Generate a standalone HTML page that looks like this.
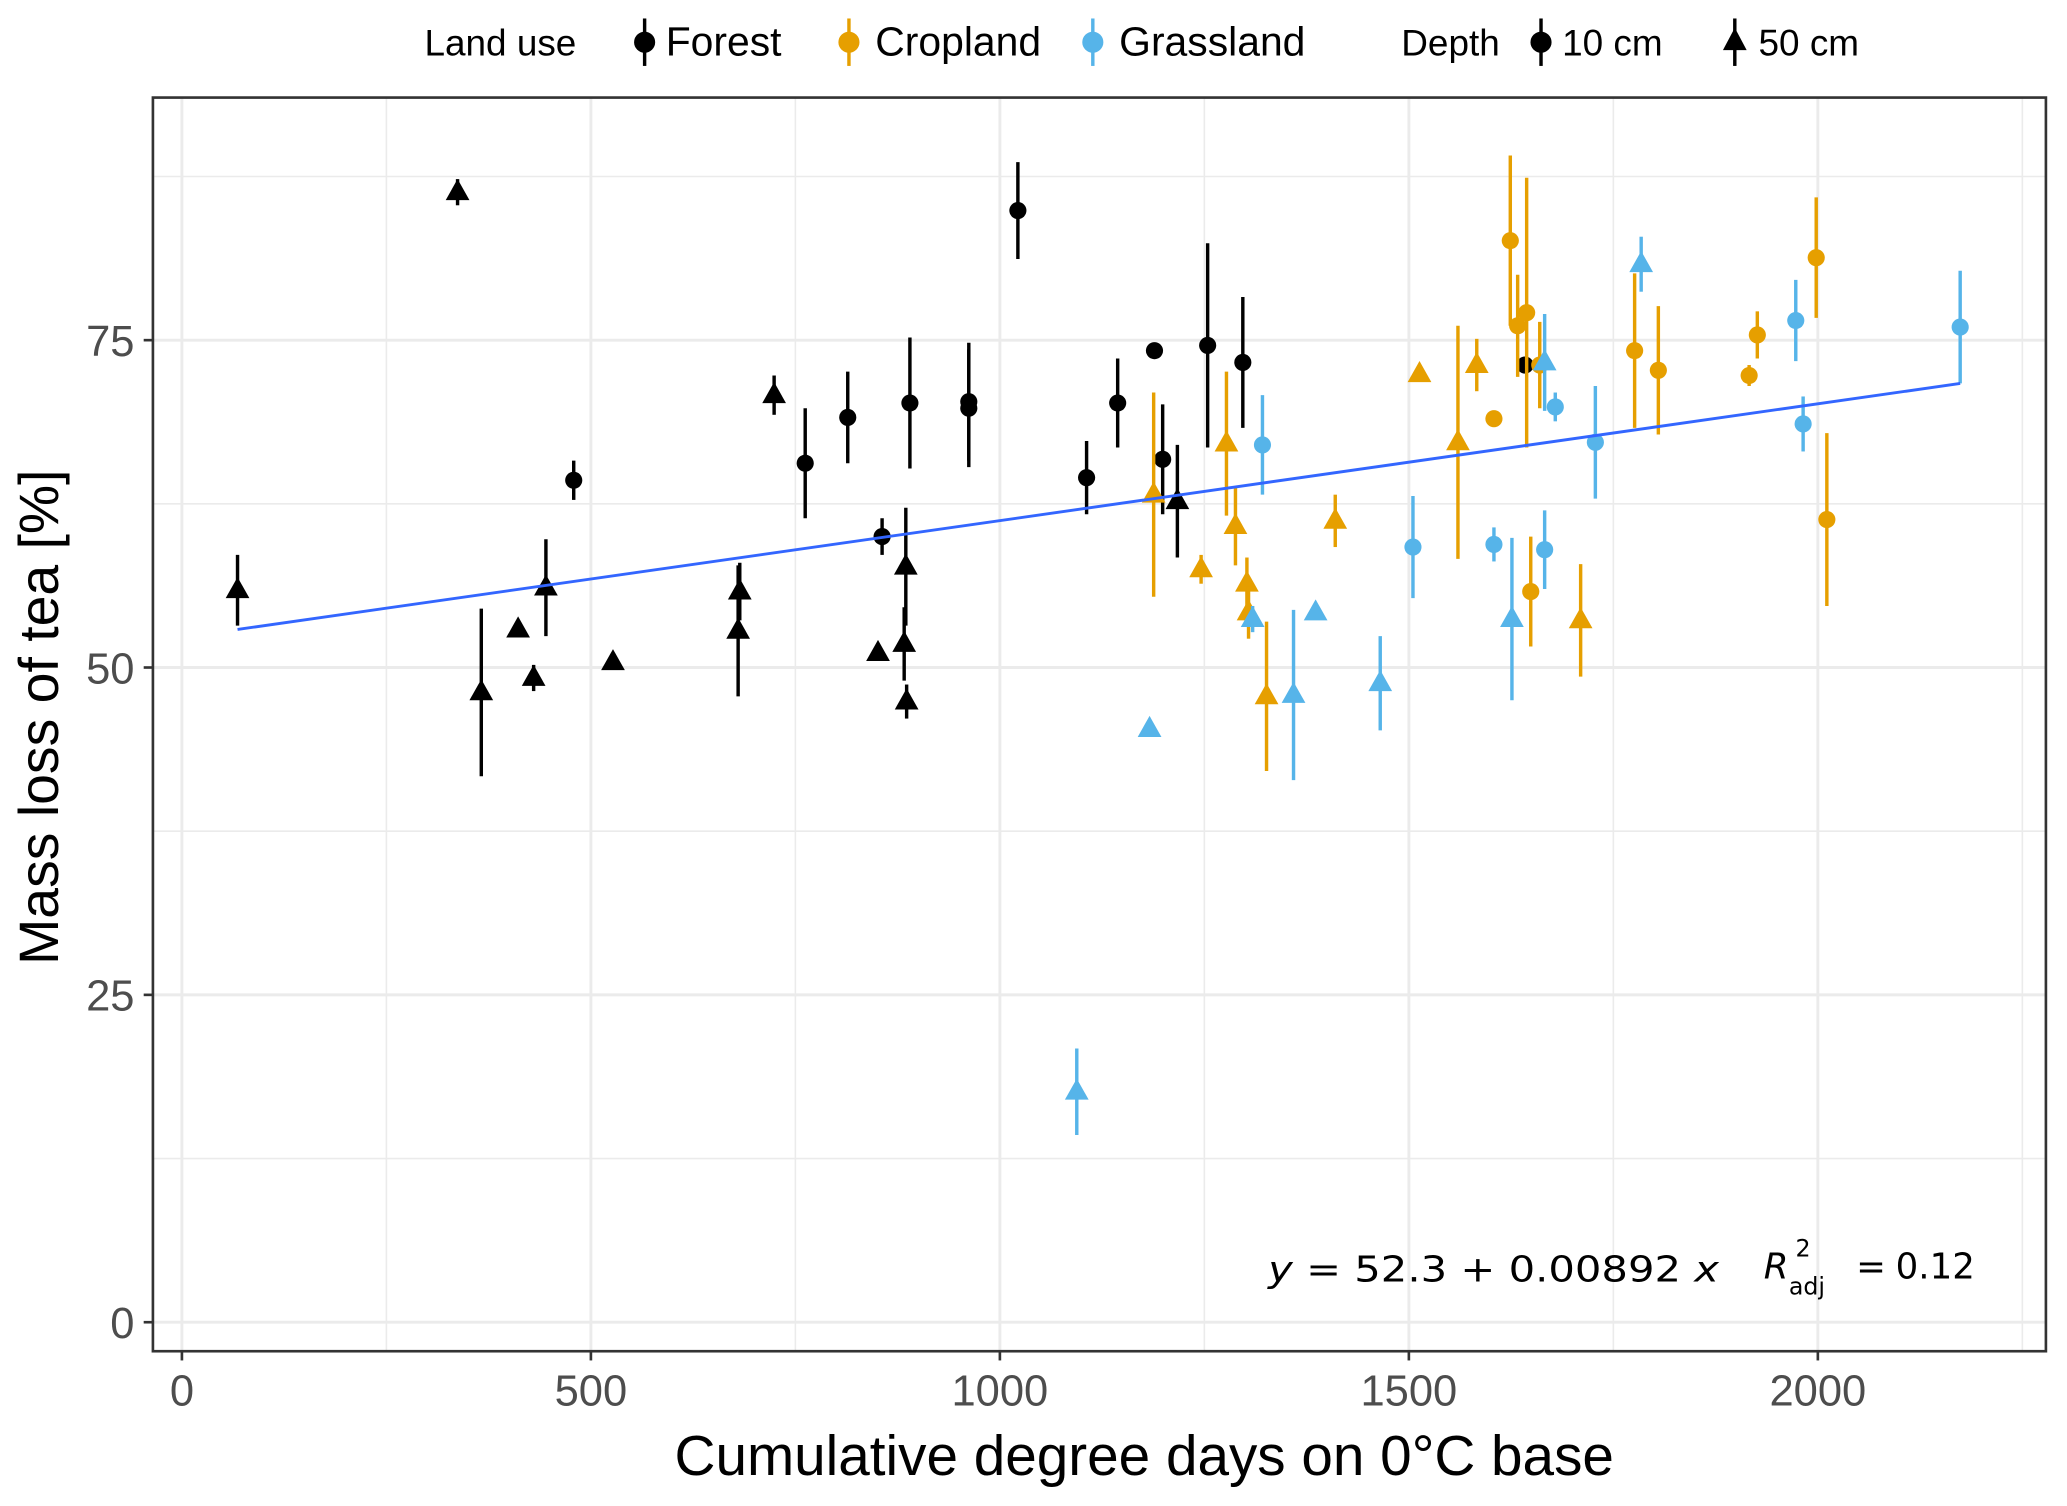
<!DOCTYPE html>
<html><head><meta charset="utf-8">
<style>
html,body{margin:0;padding:0;background:#fff;}
svg{display:block;font-family:"Liberation Sans",sans-serif;}
</style></head>
<body>
<svg id="chart" width="2067" height="1506" viewBox="0 0 1568 1142.4" xmlns="http://www.w3.org/2000/svg">
<g id="grid"></g>
<g id="marks"></g>
<rect x="116" y="74" width="1436" height="951" fill="none" stroke="#333" stroke-width="2"/>
<g id="axes"></g>
<text transform="translate(44,544) rotate(-90)" text-anchor="middle" font-size="42">Mass loss of tea [%]</text>
<text x="868" y="1119" text-anchor="middle" font-size="43">Cumulative degree days on 0°C base</text>
<g font-size="27" font-family="'DejaVu Sans',sans-serif">
<text x="962" y="972" textLength="342" lengthAdjust="spacingAndGlyphs"><tspan font-style="italic">y</tspan> = 52.3 + 0.00892 <tspan font-style="italic">x</tspan></text>
<text x="1338" y="970" font-style="italic">R</text>
<text x="1362" y="953" font-size="18">2</text>
<text x="1357" y="982" font-size="18">adj</text>
<text x="1408" y="970">= </text>
<text x="1438" y="970">0.12</text>
</g>
<g id="legend" font-size="29"></g>
</svg>
<script>
const xTicks=[0,500,1000,1500,2000];
const yTicks=[0,25,50,75];
const forest10x=[479,762,814,890,962,962,856,1022,1106,1144,1189,1199,1254,1297,1642];
const forest10y=[64.3,65.6,69.1,70.2,70.3,69.8,60.0,84.9,64.5,70.2,74.2,65.9,74.6,73.3,73.1];
const forest10e=[1.5,4.2,3.5,5.0,4.5,4.5,1.4,3.7,2.8,3.4,0.5,4.2,7.8,5.0,0.5];
const forest50x=[68,337,366,411,430,445,527,680,682,724,851,885,883,886,1217];
const forest50y=[55.9,86.3,48.1,52.9,49.2,56.1,50.4,52.8,55.8,70.8,51.1,57.7,51.8,47.4,62.7];
const forest50e=[2.7,1.0,6.4,0.4,1.0,3.7,0.5,5.0,2.2,1.5,0.5,4.5,2.8,1.3,4.3];
const crop10x=[1604,1624,1633,1644,1660,1649,1776,1805,1916,1926,1998,2011];
const crop10y=[69.0,82.6,76.1,77.1,73.1,55.8,74.2,72.7,72.3,75.4,81.3,61.3];
const crop10e=[0.4,6.5,3.9,10.3,3.3,4.2,5.9,4.9,0.8,1.8,4.6,6.6];
const crop50x=[1188,1246,1277,1288,1302,1304,1326,1410,1513,1560,1583,1710];
const crop50y=[63.2,57.5,67.1,60.8,56.4,54.2,47.8,61.2,72.4,67.2,73.1,53.6];
const crop50e=[7.8,1.1,5.5,3.0,2.0,2.0,5.7,2.0,0.5,8.9,2.0,4.3];
const grass10x=[1321,1505,1604,1666,1679,1728,1973,1982,2174];
const grass10y=[67.0,59.2,59.4,59.0,69.9,67.2,76.5,68.6,76.0];
const grass10e=[3.8,3.9,1.3,3.0,1.1,4.3,3.1,2.1,4.3];
const grass50x=[1094,1183,1309,1359,1386,1465,1626,1666,1784];
const grass50y=[17.6,45.3,53.7,47.9,54.2,48.8,53.7,73.3,80.8];
const grass50e=[3.3,0.5,1.0,6.5,0.5,3.6,6.2,3.7,2.1];
const regIntercept=52.3, regSlope=0.00892, regX=[68,2174];

const NS="http://www.w3.org/2000/svg";
const X=v=>138+v*0.6205;
const Y=v=>1003-v*9.933;
function mk(tag,attrs,parent){const e=document.createElementNS(NS,tag);for(const k in attrs)e.setAttribute(k,attrs[k]);parent.appendChild(e);return e;}
const grid=document.getElementById('grid'),axes=document.getElementById('axes'),marks=document.getElementById('marks'),legend=document.getElementById('legend');
for(let v=250;v<=2250;v+=500){const l=mk('line',{x1:X(v),x2:X(v),y1:74,y2:1025,stroke:'#ebebeb','stroke-width':1.2},grid);}
for(let v=12.5;v<=90;v+=25){const l=mk('line',{x1:116,x2:1552,y1:Y(v),y2:Y(v),stroke:'#ebebeb','stroke-width':1.2},grid);}
xTicks.forEach(v=>{
 const g=mk('line',{x1:X(v),x2:X(v),y1:74,y2:1025,stroke:'#ebebeb','stroke-width':2.2},grid);
 
 
 const t=mk('line',{x1:X(v),x2:X(v),y1:1025,y2:1032,stroke:'#333','stroke-width':2},axes);
 
 
 const tx=mk('text',{x:X(v),y:1066,'text-anchor':'middle','font-size':33,fill:'#4d4d4d'},axes);tx.textContent=v;
 
 
});
yTicks.forEach(v=>{
 const g=mk('line',{x1:116,x2:1552,y1:Y(v),y2:Y(v),stroke:'#ebebeb','stroke-width':2.2},grid);
 
 
 const t=mk('line',{x1:109,x2:116,y1:Y(v),y2:Y(v),stroke:'#333','stroke-width':2},axes);
 
 
 const tx=mk('text',{x:102,y:Y(v)+12,'text-anchor':'end','font-size':33,fill:'#4d4d4d'},axes);tx.textContent=v;
 
 
});
function series(xs,ys,es,color,shape,name){
 xs.forEach((x,i)=>{
  const g=mk('g',{},marks);
  
  
  mk('line',{x1:X(x),x2:X(x),y1:Y(ys[i]+es[i]),y2:Y(ys[i]-es[i]),stroke:color,'stroke-width':2.6},g);
  if(shape==='c')mk('circle',{cx:X(x),cy:Y(ys[i]),r:6.5,fill:color},g);
  else{const cx=X(x),cy=Y(ys[i]);mk('polygon',{points:`${cx},${cy-10} ${cx-9},${cy+6} ${cx+9},${cy+6}`,fill:color},g);}
 });
}
const BK='#000',OR='#E69F00',BL='#56B4E9';
series(forest50x,forest50y,forest50e,BK,'t','forest-50cm');
series(forest10x,forest10y,forest10e,BK,'c','forest-10cm');
series(crop50x,crop50y,crop50e,OR,'t','cropland-50cm');
series(crop10x,crop10y,crop10e,OR,'c','cropland-10cm');
series(grass50x,grass50y,grass50e,BL,'t','grassland-50cm');
series(grass10x,grass10y,grass10e,BL,'c','grassland-10cm');
const rl=mk('line',{x1:X(regX[0]),y1:Y(regIntercept+regSlope*regX[0]),x2:X(regX[1]),y2:Y(regIntercept+regSlope*regX[1]),stroke:'#3366FF','stroke-width':2.2},marks);


function ltext(x,s,name,fs){const t=mk('text',{x:x,y:42,'font-size':fs},legend);t.textContent=s;}
function lkey(x,color,shape,name){const g=mk('g',{},legend);
 mk('line',{x1:x,x2:x,y1:14,y2:50,stroke:color,'stroke-width':2.6},g);
 if(shape==='c')mk('circle',{cx:x,cy:32,r:8,fill:color},g);
 else mk('polygon',{points:`${x},${21} ${x-9},${38} ${x+9},${38}`,fill:color},g);}
ltext(322,'Land use','legend-title-land-use',28);
lkey(489,BK,'c','legend-key-forest');ltext(505,'Forest','legend-label-forest',31);
lkey(644,OR,'c','legend-key-cropland');ltext(664,'Cropland','legend-label-cropland',31);
lkey(829,BL,'c','legend-key-grassland');ltext(849,'Grassland','legend-label-grassland',31);
ltext(1063,'Depth','legend-title-depth',28);
lkey(1169,BK,'c','legend-key-10cm');ltext(1185,'10 cm','legend-label-10cm',28);
lkey(1316,BK,'t','legend-key-50cm');ltext(1334,'50 cm','legend-label-50cm',28);
</script>
</body></html>
